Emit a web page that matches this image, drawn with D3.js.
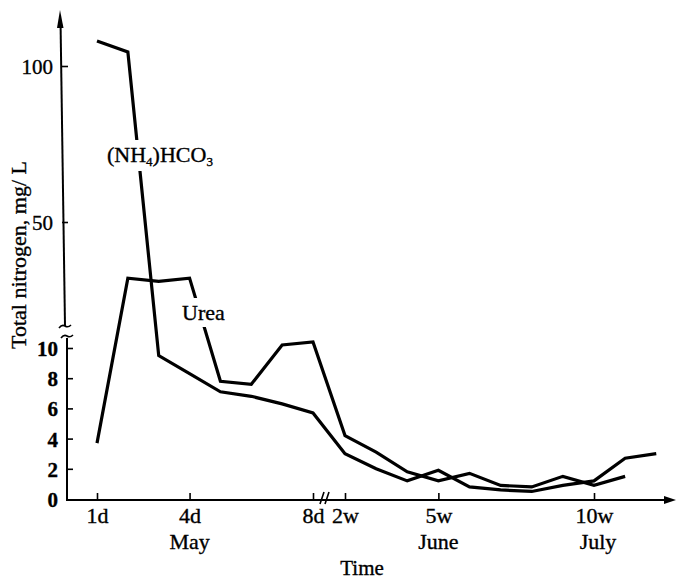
<!DOCTYPE html>
<html><head><meta charset="utf-8">
<script src="https://cdn.jsdelivr.net/npm/d3@7"></script>
<style>body{margin:0;background:#fff}svg{display:block}text{stroke:#000;stroke-width:0.35px}</style>
</head><body><svg id="c" width="677" height="580"></svg>
<script>
// ---- data ----
const dayTimes = [1, 2, 3, 4, 5, 6, 7, 8];
const weekTimes = [2, 3, 4, 5, 6, 7, 8, 9, 10, 11, 12];
const nh4Days = [108, 104.5, 9.5, 8.3, 7.1, 6.8, 6.3, 5.7];
const nh4Weeks = [3.0, 2.0, 1.2, 1.9, 0.8, 0.6, 0.5, 0.9, 1.2, 2.7, 3.0];
const ureaDays = [3.7, 32, 31, 32, 7.8, 7.6, 10.2, 10.4];
const ureaWeeks = [4.2, 3.1, 1.8, 1.2, 1.7, 0.9, 0.8, 1.5, 0.9, 1.5];
const dayTicks = [1, 4, 8];
const dayTickLabels = ["1d", "4d", "8d"];
const weekTicks = [2, 5, 10];
const weekTickLabels = ["2w", "5w", "10w"];
const monthLabels = ["May", "June", "July"];
const lowTicks = [0, 2, 4, 6, 8, 10];
const highTicks = [50, 100];
const breakValue = 12;

// ---- scales ----
const xDay = d3.scaleLinear().domain([1, 8]).range([97, 313]);
const xWeek = d3.scaleLinear().domain([2, 10]).range([345, 594]);
const yLow = d3.scaleLinear().domain([0, 10]).range([499, 348]);
const yHigh = d3.scaleLinear().domain([50, 100]).range([222, 66]);
const yOf = v => v > breakValue ? yHigh(v) : yLow(v);

const svg = d3.select("#c");
const FONT = "'Liberation Serif','Times New Roman',serif";
svg.append("rect").attr("width", 677).attr("height", 580).attr("fill", "#fff").attr("stroke", "none");

// ---- axes lines ----
const ax = svg.append("g").attr("stroke", "#000").attr("fill", "none").attr("stroke-width", 2);
ax.append("line").attr("x1", 66).attr("y1", 500).attr("x2", 668).attr("y2", 500);
svg.append("path").attr("d", "M664,496 L676,500 L664,504 Z").attr("fill", "#000");
ax.append("line").attr("x1", 67).attr("y1", 501).attr("x2", 67).attr("y2", 338);
ax.append("line").attr("x1", 65).attr("y1", 326).attr("x2", 60.5).attr("y2", 20);
svg.append("path").attr("d", "M57,28 L60,10 L63.5,28 Z").attr("fill", "#000");
ax.append("path").attr("d", "M59,328 q3,-4 6,-2 q3,2 6,-1").attr("stroke-width", 1.6);
ax.append("path").attr("d", "M61,338 q3,-4 6,-2 q3,2 6,-1").attr("stroke-width", 1.6);
ax.append("path").attr("d", "M320,504 L324,492 M325,504 L329,492").attr("stroke-width", 1.6);

// ---- y ticks ----
function styleAxis(g) {
  g.select(".domain").remove();
  g.selectAll(".tick line").attr("stroke", "#000").attr("stroke-width", 1.6);
  g.selectAll(".tick text").attr("fill", "#000").attr("font-family", FONT);
}
const gLow = svg.append("g").attr("transform", "translate(67,0)")
  .call(d3.axisLeft(yLow).tickValues(lowTicks).tickSize(-6).tickPadding(9));
styleAxis(gLow);
gLow.selectAll(".tick text").attr("font-size", 21).attr("font-weight", "bold").attr("dy", "0.36em");
gLow.selectAll(".tick").filter(d => d === 0).select("line").remove();

const gHigh = svg.append("g").attr("transform", "translate(62,0)")
  .call(d3.axisLeft(yHigh).tickValues(highTicks).tickSize(-6).tickPadding(9));
styleAxis(gHigh);
gHigh.selectAll(".tick text").attr("font-size", 21).attr("dy", "0.36em");

// ---- x ticks ----
const gDay = svg.append("g").attr("transform", "translate(0,500)")
  .call(d3.axisBottom(xDay).tickValues(dayTicks).tickSize(-7).tickFormat((d, i) => dayTickLabels[i]));
styleAxis(gDay);
const gWeek = svg.append("g").attr("transform", "translate(0,500)")
  .call(d3.axisBottom(xWeek).tickValues(weekTicks).tickSize(-7).tickFormat((d, i) => weekTickLabels[i]));
styleAxis(gWeek);
[gDay, gWeek].forEach(g => g.selectAll(".tick text").attr("font-size", 22).attr("y", 23).attr("dy", 0));

const monthX = [xDay(dayTicks[1]), xWeek(weekTicks[1]), xWeek(weekTicks[2]) + 4];
svg.append("g").selectAll("text").data(monthLabels).join("text")
  .attr("x", (d, i) => monthX[i]).attr("y", 549).attr("text-anchor", "middle")
  .attr("font-family", FONT).attr("font-size", 22).text(d => d);

svg.append("text").attr("x", 362).attr("y", 575).attr("text-anchor", "middle")
  .attr("font-family", FONT).attr("font-size", 21).text("Time");
svg.append("text").attr("transform", "translate(26,255) rotate(-90)").attr("text-anchor", "middle")
  .attr("font-family", FONT).attr("font-size", 22).text("Total nitrogen, mg/ L");

// ---- series ----
const nh4Pts = dayTimes.map((t, i) => ({x: xDay(t), v: nh4Days[i]}))
  .concat(weekTimes.slice(0, nh4Weeks.length).map((t, i) => ({x: xWeek(t), v: nh4Weeks[i]})));
const ureaPts = dayTimes.map((t, i) => ({x: xDay(t), v: ureaDays[i]}))
  .concat(weekTimes.slice(0, ureaWeeks.length).map((t, i) => ({x: xWeek(t), v: ureaWeeks[i]})));
const line = d3.line().x(d => d.x).y(d => yOf(d.v));
svg.selectAll("path.series").data([nh4Pts, ureaPts]).join("path").attr("class", "series")
  .attr("d", line).attr("fill", "none").attr("stroke", "#000").attr("stroke-width", 3.2)
  .attr("stroke-linejoin", "miter");

// ---- series labels with white backing ----
function label(x, y, build) {
  const g = svg.append("g");
  const r = g.append("rect").attr("fill", "#fff").attr("stroke", "none");
  const t = g.append("text").attr("x", x).attr("y", y).attr("font-family", FONT).attr("font-size", 22);
  build(t);
  const b = t.node().getBBox();
  r.attr("x", b.x - 2).attr("y", b.y - 2).attr("width", b.width + 4).attr("height", b.height + 4);
}
label(107, 162, t => {
  t.append("tspan").text("(NH");
  t.append("tspan").attr("font-size", 13).attr("dy", 4).text("4");
  t.append("tspan").attr("dy", -4).text(")HCO");
  t.append("tspan").attr("font-size", 13).attr("dy", 4).text("3");
});
label(182, 320, t => t.text("Urea"));
</script></body></html>
